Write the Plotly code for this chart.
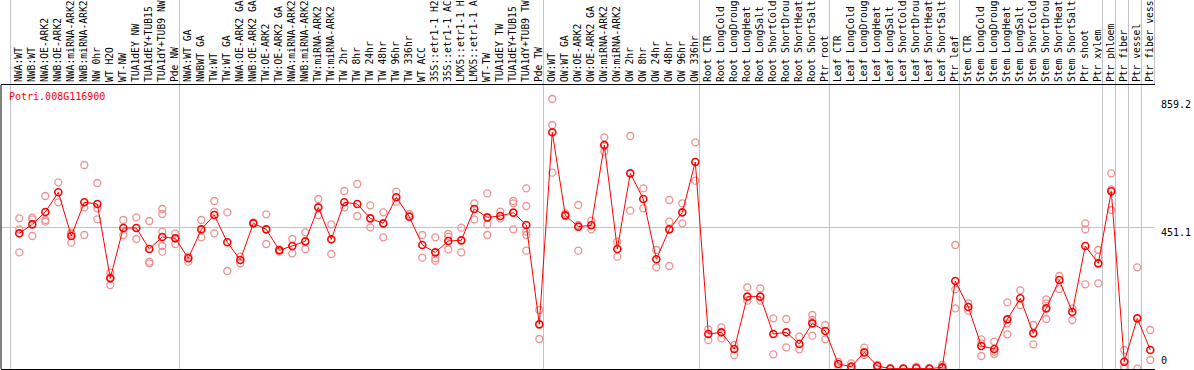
import plotly.graph_objects as go

# ---------------- data ----------------
categories = [
    # group 1
    "NWA:WT", "NWB:WT", "NWA:OE-ARK2", "NWB:OE-ARK2", "NWA:miRNA-ARK2", "NWB:miRNA-ARK2",
    "NW 0hr", "WT H2O", "WT-NW", "TUA1dEY NW", "TUA1dEY+TUB15 NW", "TUA1dY+TUB9 NW", "Pde NW",
    # group 2
    "NWA:WT GA", "NWBWT GA", "TW:WT", "TW:WT GA", "NWA:OE-ARK2 GA", "NWB:OE-ARK2 GA",
    "TW:OE-ARK2", "TW:OE-ARK2 GA", "NWA:miRNA-ARK2 GA", "NWB:miRNA-ARK2 GA", "TW:miRNA-ARK2",
    "TW:miRNA-ARK2 GA", "TW 2hr", "TW 8hr", "TW 24hr", "TW 48hr", "TW 96hr", "TW 336hr",
    "WT ACC", "35S::etr1-1 H2O", "35S::etr1-1 ACC", "LMX5::etr1-1 H2O", "LMX5::etr1-1 ACC",
    "WT-TW", "TUA1dEY TW", "TUA1dEY+TUB15 TW", "TUA1dY+TUB9 TW", "Pde TW",
    # group 3
    "OW:WT", "OW:WT GA", "OW:OE-ARK2", "OW:OE-ARK2 GA", "OW:miRNA-ARK2", "OW:miRNA-ARK2 GA",
    "OW 2hr", "OW 8hr", "OW 24hr", "OW 48hr", "OW 96hr", "OW 336hr",
    # root
    "Root CTR", "Root LongCold", "Root LongDrought", "Root LongHeat", "Root LongSalt",
    "Root ShortCold", "Root ShortDrought", "Root ShortHeat", "Root ShortSalt", "Ptr root",
    # leaf
    "Leaf CTR", "Leaf LongCold", "Leaf LongDrought", "Leaf LongHeat", "Leaf LongSalt",
    "Leaf ShortCold", "Leaf ShortDrought", "Leaf ShortHeat", "Leaf ShortSalt", "Ptr leaf",
    # stem
    "Stem CTR", "Stem LongCold", "Stem LongDrought", "Stem LongHeat", "Stem LongSalt",
    "Stem ShortCold", "Stem ShortDrought", "Stem ShortHeat", "Stem ShortSalt", "Ptr shoot",
    "Ptr xylem",
    "Ptr phloem", "Ptr fiber", "Ptr vessel", "Ptr fiber vessel",
]

group_sizes = [13, 28, 12, 10, 10, 11, 1, 1, 1, 1]

means = [
    431.7, 460.3, 499.6, 562.2, 423.2, 530.4, 525.0, 288.5, 448.7, 448.7, 381.9, 420.0, 415.8,
    352.2, 444.4, 490.0, 403.1, 346.8, 463.5, 444.4, 377.6, 391.4, 406.2, 514.4, 412.6, 530.4,
    525.0, 479.4, 463.5, 546.3, 484.7, 394.6, 371.2, 407.3, 409.4, 509.1, 482.6, 486.9, 497.5,
    458.2, 142.1,
    753.1, 489.0, 452.9, 457.2, 712.8, 381.9, 622.6, 541.0, 349.0, 444.4, 498.5, 658.7,
    111.4, 116.7, 63.6, 230.2, 230.2, 111.4, 116.7, 79.6, 145.3, 120.9,
    15.9, 7.4, 53.0, 9.5, 1.1, 1.1, 3.2, 1.1, 5.3, 280.0,
    197.3, 73.2, 63.6, 158.0, 224.9, 113.5, 193.0, 283.2, 181.4, 391.4, 336.2,
    565.4, 23.3, 161.2, 60.5,
]

replicates = [
    [479.4, 444.4, 371.2], [481.6, 476.3, 423.2], [550.5, 474.1, 468.8], [594.0, 530.4],
    [433.8, 429.6, 402.0], [649.1, 514.4, 426.4], [591.8, 511.3, 476.3], [306.5, 291.7, 267.3],
    [474.1, 426.4], [482.6, 413.7], [470.9, 341.5, 336.2], [509.1, 493.2, 437.0, 391.4, 373.4],
    [431.7, 397.8],
    [357.5, 341.5], [474.1, 419.0], [534.6, 500.7, 431.7], [498.5, 311.8], [357.5, 336.2],
    [466.7], [492.2, 397.8], [380.8, 373.4], [413.7, 368.1], [434.9, 381.9], [541.0, 490.0],
    [460.3, 365.9], [566.4, 514.4], [588.7, 486.9], [520.8, 450.8], [498.5, 419.0],
    [564.3, 532.5], [493.2, 486.9], [426.4, 354.3], [419.0, 352.2, 344.7], [429.6, 421.1, 380.8],
    [449.7, 371.2], [527.2, 476.3], [559.0, 460.3, 426.4], [500.7, 479.4], [534.6, 527.2, 444.4],
    [574.9, 518.7, 437.0, 426.4, 376.5], [187.7, 95.5],
    [859.2, 776.4, 624.7], [495.3, 486.9], [521.9, 458.2, 376.5], [472.0, 444.4],
    [737.2, 709.6, 691.6], [405.2, 357.5], [741.4, 503.8], [574.9, 511.3], [378.7, 323.6],
    [537.8, 468.8, 327.8], [527.2, 463.5], [721.3, 599.3],
    [126.2, 92.3], [132.6, 97.6], [76.4, 44.5], [259.9, 217.4], [256.7, 217.4], [161.2, 46.7],
    [159.1, 68.9], [102.9, 62.6], [171.8, 155.9, 106.1], [140.0, 94.4],
    [23.3, 9.5], [18.0, 2.1], [67.9, 44.5], [12.7, 2.1], [1.1], [1.1], [7.4, 1.1], [1.1],
    [12.7, 1.1], [394.6, 253.5, 193.0],
    [209.0, 185.6], [94.4, 81.7, 41.4], [87.0, 55.2, 47.7], [212.1, 145.3, 110.3],
    [250.3, 203.7], [140.0, 78.5], [221.7, 209.0, 159.1], [295.9, 254.6], [193.0, 155.9],
    [463.5, 444.4, 269.4], [378.7, 357.5, 272.6],
    [622.6, 571.7, 506.0], [60.5, 7.4, 1.1], [323.5, 1.1], [124.1, 28.6],
]

gene_label = "Potri.008G116900"
y_label_vals = [859.2, 451.1, 0]
y_label_text = ["859.2", "451.1", "0"]
grid_value = 451.1

# ---------------- build ----------------
FONT = "DejaVu Sans Mono"
MEAN_COLOR = "#ff0000"
REP_COLOR = "rgb(238,145,145)"
GRID_COLOR = "#c4c4c4"
LABEL_CHARS = 14  # the header strip only shows this many characters

xs = list(range(len(categories)))
tick_text = [c[:LABEL_CHARS] for c in categories]
rep_x, rep_y = [], []
for i, vals in enumerate(replicates):
    rep_x += [i] * len(vals)
    rep_y += vals

bounds = [0]
for s in group_sizes:
    bounds.append(bounds[-1] + s)
BOUND_OFFSET = -0.66
grid_x = [b + BOUND_OFFSET for b in bounds]

x_range = [-1.408, 87.362]
y_range = [0, 903.7]

fig = go.Figure()
fig.add_trace(go.Scatter(
    x=rep_x, y=rep_y, mode="markers",
    marker=dict(symbol="circle-open", size=7, color=REP_COLOR, line=dict(width=1.3)),
    hoverinfo="skip", showlegend=False,
))
fig.add_trace(go.Scatter(
    x=xs, y=means, mode="lines+markers",
    line=dict(color=MEAN_COLOR, width=1),
    marker=dict(symbol="circle-open", size=7, color=MEAN_COLOR, line=dict(width=1.6)),
    showlegend=False,
))
# helper trace so the boundary axis is drawn
fig.add_trace(go.Scatter(
    x=[xs[0]], y=[means[0]], xaxis="x2", mode="markers",
    marker=dict(opacity=0), hoverinfo="skip", showlegend=False,
))

fig.update_layout(
    width=1194, height=370,
    template="none",
    margin=dict(l=1, r=39, t=85, b=1, pad=0),
    paper_bgcolor="white", plot_bgcolor="white",
    font=dict(family=FONT, size=10, color="black"),
    showlegend=False,
    hovermode=False,
    xaxis=dict(
        range=x_range, side="top", tickmode="array", tickvals=xs, ticktext=tick_text,
        tickangle=-90, ticks="", showgrid=False, zeroline=False,
        showline=True, linecolor="black", linewidth=1, mirror=True,
        automargin=False, tickfont=dict(family=FONT, size=9.7, color="black"),
    ),
    xaxis2=dict(
        range=x_range, overlaying="x", side="top", anchor="y",
        tickmode="array", tickvals=grid_x, showticklabels=False,
        ticks="outside", ticklen=85, tickcolor=GRID_COLOR, tickwidth=1,
        showgrid=True, gridcolor=GRID_COLOR, gridwidth=1,
        zeroline=False, showline=False, automargin=False,
    ),
    yaxis=dict(
        range=y_range, side="right", tickmode="array", tickvals=[grid_value],
        showticklabels=False, ticks="", showgrid=True, gridcolor=GRID_COLOR, gridwidth=1,
        zeroline=False, showline=False, automargin=False,
    ),
)

# left border of the plot area
fig.add_shape(type="line", xref="paper", yref="paper", x0=0, x1=0, y0=0, y1=1,
              line=dict(color="black", width=1))

# y labels on the right
for v, t in zip(y_label_vals, y_label_text):
    fig.add_annotation(
        x=1, xref="paper", y=v, yref="y", text=t, showarrow=False,
        xanchor="left", yanchor="bottom" if v == 0 else "top",
        xshift=4, yshift=(1 if v == 0 else 2),
        font=dict(family=FONT, size=10, color="black"),
    )

# gene label
fig.add_annotation(
    x=0, xref="paper", y=1, yref="paper", text=gene_label, showarrow=False,
    xanchor="left", yanchor="top", xshift=6, yshift=-4,
    font=dict(family=FONT, size=10, color=MEAN_COLOR),
)

fig.write_html(
    "out.html",
    config={"displayModeBar": False},
    post_script="document.body.style.margin='0';document.body.style.overflow='hidden';",
)
